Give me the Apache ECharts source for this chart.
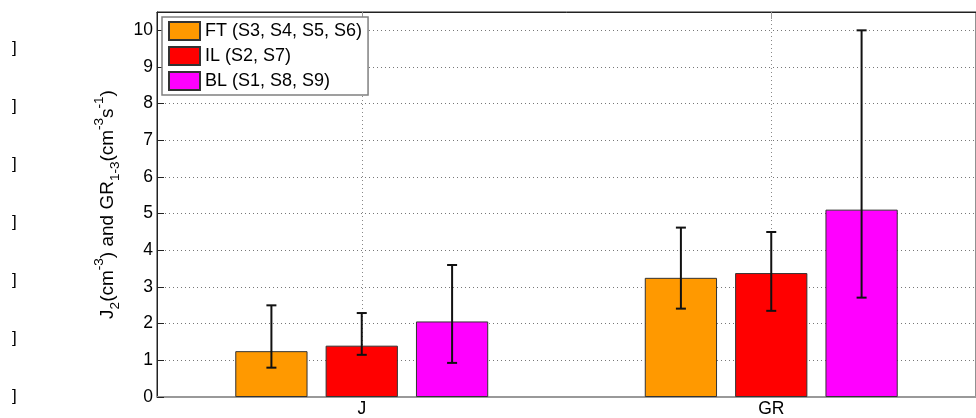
<!DOCTYPE html>
<html>
<head>
<meta charset="utf-8">
<script src="https://cdn.jsdelivr.net/npm/echarts@6/dist/echarts.min.js"></script>
<style>
  html, body { margin: 0; padding: 0; background: #fff; }
  #chart { width: 976px; height: 418px; }
</style>
</head>
<body>
<div id="chart"></div>
<script>
// Categories on the x axis
const categories = ['J', 'GR'];

// Group names shown in the legend
const seriesNames = ['FT (S3, S4, S5, S6)', 'IL (S2, S7)', 'BL (S1, S8, S9)'];
const seriesColors = ['#FF9900', '#FF0000', '#FF00FF'];

// Mean values per group
const ftMean = [1.25, 3.25];
const ilMean = [1.40, 3.38];
const blMean = [2.06, 5.11];

// Error bar extents (lower, upper)
const ftLow = [0.80, 2.41];
const ftHigh = [2.50, 4.62];
const ilLow = [1.15, 2.35];
const ilHigh = [2.29, 4.50];
const blLow = [0.93, 2.71];
const blHigh = [3.60, 10.0];

// Y axis range
const yMin = 0;
const yMax = 10.5;
const yStep = 1;

const FONT = '"Liberation Sans", Arial, Helvetica, sans-serif';
const AXIS_FONT_SIZE = 17.5;
const LEGEND_FONT_SIZE = 18;
const BAR_RATIO = 0.1765;   // bar width as fraction of category band
const BAR_GAP = 0.25;       // gap between bars as fraction of bar width

const means = [ftMean, ilMean, blMean];
const lows = [ftLow, ilLow, blLow];
const highs = [ftHigh, ilHigh, blHigh];

const chart = echarts.init(document.getElementById('chart'), null, { renderer: 'canvas' });

const barSeries = seriesNames.map((name, k) => ({
  name: name,
  type: 'bar',
  data: means[k],
  barWidth: (BAR_RATIO * 100) + '%',
  barGap: (BAR_GAP * 100) + '%',
  itemStyle: { color: seriesColors[k], borderColor: '#333', borderWidth: 1 },
  emphasis: { disabled: true },
  z: 3
}));

// Vertical error bars with caps, centred on each bar of a group
function errorBarSeries(slot) {
  return {
    type: 'custom',
    z: 10,
    silent: true,
    data: categories.map((c, i) => [i, lows[slot][i], highs[slot][i]]),
    encode: { x: 0, y: [1, 2] },
    renderItem(params, api) {
      const idx = api.value(0);
      const lo = api.coord([idx, api.value(1)]);
      const hi = api.coord([idx, api.value(2)]);
      const band = api.size([1, 0])[0];
      const barW = band * BAR_RATIO;
      const x = lo[0] + (slot - 1) * barW * (1 + BAR_GAP);
      const cap = 5;
      const st = { stroke: '#111', lineWidth: 2 };
      return {
        type: 'group',
        children: [
          { type: 'line', shape: { x1: x, y1: hi[1], x2: x, y2: lo[1] }, style: st },
          { type: 'line', shape: { x1: x - cap, y1: hi[1], x2: x + cap, y2: hi[1] }, style: st },
          { type: 'line', shape: { x1: x - cap, y1: lo[1], x2: x + cap, y2: lo[1] }, style: st }
        ]
      };
    }
  };
}

// Stray bracket glyphs down the left margin
const bracketTexts = [];
for (let i = 0; i < 7; i++) {
  bracketTexts.push({
    type: 'text',
    left: 12,
    top: 40 + i * 58,
    style: { text: ']', fontSize: 17, fontFamily: FONT, fill: '#000' }
  });
}

const option = {
  animation: false,
  backgroundColor: '#fff',
  textStyle: { fontFamily: FONT },
  grid: {
    left: 157, right: -8, top: 12, bottom: 21,
    show: true, borderColor: '#222', borderWidth: 1, backgroundColor: 'transparent'
  },
  legend: {
    data: seriesNames,
    orient: 'vertical',
    left: 162,
    top: 17,
    itemWidth: 31,
    itemHeight: 18,
    itemGap: 5,
    padding: [4, 6, 4, 6],
    backgroundColor: '#fff',
    borderColor: '#808080',
    borderWidth: 1.5,
    borderRadius: 0,
    icon: 'rect',
    selectedMode: false,
    textStyle: { fontSize: LEGEND_FONT_SIZE, color: '#000', fontFamily: FONT }
  },
  xAxis: [{
    type: 'category',
    data: categories,
    position: 'bottom',
    axisLine: { show: true, lineStyle: { color: '#999', width: 2 } },
    axisTick: { show: true, inside: true, alignWithLabel: true, length: 7, lineStyle: { color: '#999' } },
    axisLabel: { fontSize: AXIS_FONT_SIZE, color: '#000', margin: 3, fontFamily: FONT },
    splitLine: { show: true, alignWithLabel: true, lineStyle: { color: '#888', type: [1, 3], width: 1 } }
  }, {
    type: 'category',
    data: categories,
    position: 'top',
    axisLine: { show: true, lineStyle: { color: '#222', width: 1 } },
    axisTick: { show: true, inside: true, alignWithLabel: true, length: 7, lineStyle: { color: '#999' } },
    axisLabel: { show: false },
    splitLine: { show: false }
  }],
  yAxis: {
    type: 'value',
    min: yMin,
    max: yMax,
    interval: yStep,
    name: '{n|J}{sub|2}{n|(cm}{sup|-3}{n|) and GR}{sub|1-3}{n|(cm}{sup|-3}{n|s}{sup|-1}{n|)}',
    nameLocation: 'middle',
    nameGap: 29,
    nameTextStyle: {
      color: '#000',
      fontFamily: FONT,
      rich: {
        n: { fontSize: 19, lineHeight: 30, verticalAlign: 'middle', fontFamily: FONT, color: '#000' },
        sup: { fontSize: 13.5, lineHeight: 30, verticalAlign: 'top', fontFamily: FONT, color: '#000' },
        sub: { fontSize: 13.5, lineHeight: 30, verticalAlign: 'bottom', fontFamily: FONT, color: '#000' }
      }
    },
    axisLine: { show: true, lineStyle: { color: '#222', width: 1 } },
    axisTick: { show: true, inside: true, length: 7, lineStyle: { color: '#222' } },
    axisLabel: { fontSize: AXIS_FONT_SIZE, color: '#000', margin: 4, fontFamily: FONT, showMaxLabel: false },
    splitLine: { show: true, lineStyle: { color: '#777', type: [1, 3], width: 1 } }
  },
  graphic: bracketTexts,
  series: barSeries.concat([errorBarSeries(0), errorBarSeries(1), errorBarSeries(2)])
};

chart.setOption(option);
</script>
</body>
</html>
